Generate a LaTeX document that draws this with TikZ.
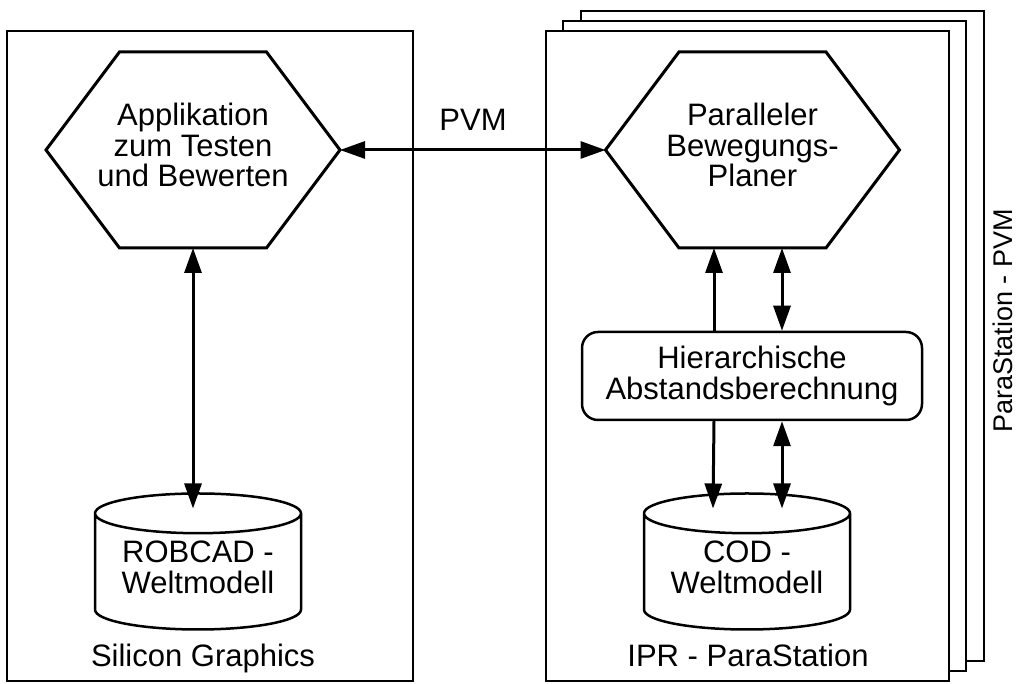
\documentclass[tikz,border=0pt]{standalone}
\usepackage{fontspec}
\setmainfont{Liberation Sans}
\usetikzlibrary{arrows.meta,positioning,shapes.geometric}

\begin{document}
\begin{tikzpicture}[
  x=1pt,y=1pt,
  font=\fontsize{31}{30.5}\selectfont,
  frame/.style={draw,line width=2.6pt,fill=white,minimum width=403pt,minimum height=650pt,inner sep=0pt,outer sep=0pt},
  hexnode/.style={align=center,text depth=10pt,minimum width=294pt,minimum height=196pt,inner sep=0pt,outer sep=0pt},
  hexline/.style={draw,line width=3pt,line join=miter},
  calcbox/.style={draw,rounded corners=16pt,line width=2.5pt,align=center,minimum width=340pt,minimum height=88pt,inner sep=0pt},
  db/.style={draw,cylinder,shape border rotate=90,aspect=0.26,line width=2.5pt,align=center,text depth=10pt,minimum width=206pt,minimum height=136pt,inner sep=0pt,anchor=shape center},
  dlink/.style={{Triangle[length=25pt,width=17pt]}-{Triangle[length=25pt,width=17pt]},line width=3pt},
  slink/.style={-{Triangle[length=25pt,width=17pt]},line width=3pt}
]
\useasboundingbox (0,0) rectangle (1026,684);
% rechner
\node[frame,minimum width=406pt] (sgi) at (210,328) {};
\node[frame] (ipr3) at (782.5,348) {};
\node[frame] (ipr2) at (764.5,338) {};
\node[frame] (ipr) at (747.5,328) {};
\node[anchor=base] (sgilbl) at (203,17) {Silicon Graphics};
\node[anchor=base] (iprlbl) at (748,17) {IPR - ParaStation};
\node[anchor=base,rotate=90,font=\fontsize{27}{27}\selectfont] (pslbl) at (1012,363) {ParaStation - PVM};
% prozesse
\node[hexnode] (app) at (193,534) {Applikation\\zum Testen\\und Bewerten};
\node[hexnode] (plan) at (752.5,534) {Paralleler\\Bewegungs-\\Planer};
\foreach \h in {app,plan}
  \draw[hexline] (\h.west) -- ([xshift=73.5pt]\h.north west) -- ([xshift=-73.5pt]\h.north east)
    -- (\h.east) -- ([xshift=-73.5pt]\h.south east) -- ([xshift=73.5pt]\h.south west) -- cycle;
\node[calcbox] (hier) at (752,308) {Hierarchische\\Abstandsberechnung};
\node[db] (rob) at (198,122.5) {ROBCAD -\\Weltmodell};
\node[db] (cod) at (747,122.5) {COD -\\Weltmodell};
\node (pvmlbl) at (473,564) {PVM};
% verbindungen
\draw[dlink] (app.east) -- (plan.west);
\draw[dlink] (app.south) -- ([xshift=-5pt,yshift=53pt]rob.shape center);
\draw[slink] ([xshift=-38pt]hier.north) -- ([xshift=-38.5pt]plan.south);
\draw[dlink] ([xshift=30pt]hier.north) -- ([xshift=29.5pt]plan.south);
\draw[slink] ([xshift=-38pt]hier.south) -- ([xshift=-34pt,yshift=53pt]cod.shape center);
\draw[dlink] ([xshift=30pt]hier.south) -- ([xshift=35pt,yshift=53pt]cod.shape center);
\end{tikzpicture}
\end{document}
